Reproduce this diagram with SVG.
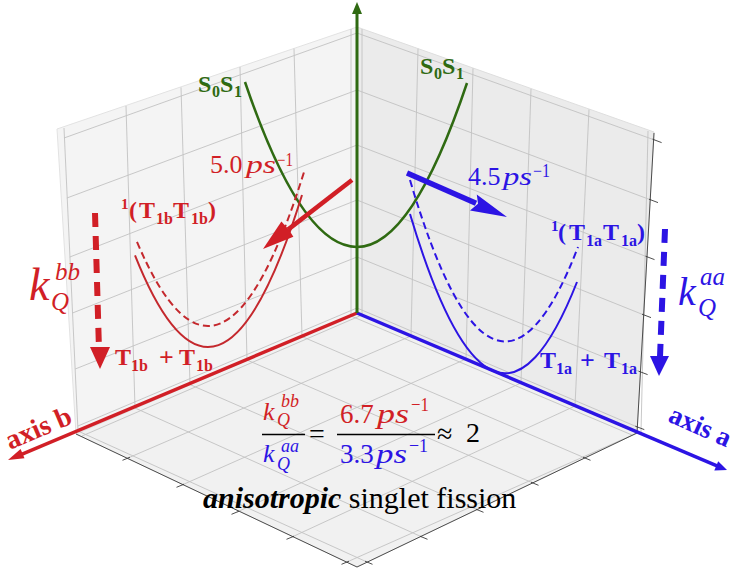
<svg xmlns="http://www.w3.org/2000/svg" width="739" height="570" viewBox="0 0 739 570">
<style>
.grid{stroke:#c2c2c2;stroke-width:0.9;fill:none}
.edge{stroke:#3a3a3a;stroke-width:0.9;fill:none}
.tick{stroke:#3a3a3a;stroke-width:0.9}
text{font-family:"Liberation Serif","Times New Roman",serif}
.b{font-weight:bold}
.i{font-style:italic}
.red{fill:#d11f26}
.blue{fill:#2c14e4}
.green{fill:#2f6a12}
.redc{stroke:#c4282d;stroke-width:2;fill:none}
.bluec{stroke:#2c14e4;stroke-width:2;fill:none}
.dash{stroke-dasharray:7 4}
</style>
<rect width="739" height="570" fill="#ffffff"/>
<g id="panes">
<polygon points="357,27 57,129 76,434 357,313" fill="#f4f4f4" stroke="#e2e2e2" stroke-width="1"/>
<polygon points="357,27 654,132 637,433 357,313" fill="#ebebeb" stroke="#dedede" stroke-width="1"/>
<polygon points="357,313 76,434 357,567 637,433" fill="#f1f1f1" stroke="#e2e2e2" stroke-width="1"/>
</g>
<g id="grid">
<line class="grid" x1="351" y1="29" x2="351" y2="316"/>
<line class="grid" x1="294" y1="48.6" x2="302" y2="336.6"/>
<line class="grid" x1="240" y1="67" x2="247" y2="360"/>
<line class="grid" x1="181" y1="87.4" x2="190" y2="384.6"/>
<line class="grid" x1="126" y1="106" x2="135" y2="408"/>
<line class="grid" x1="64" y1="128" x2="78" y2="431"/>
<line class="grid" x1="77.9" y1="426" x2="357" y2="308"/>
<line class="grid" x1="75.2" y1="369" x2="357" y2="257"/>
<line class="grid" x1="72.5" y1="313" x2="357" y2="200"/>
<line class="grid" x1="69.8" y1="257" x2="357" y2="145"/>
<line class="grid" x1="66.9" y1="198" x2="357" y2="90"/>
<line class="grid" x1="64" y1="138" x2="357" y2="33"/>
<line class="grid" x1="362" y1="29" x2="362" y2="315"/>
<line class="grid" x1="418" y1="48.7" x2="411" y2="336"/>
<line class="grid" x1="473" y1="68.3" x2="466" y2="359.3"/>
<line class="grid" x1="531" y1="88.9" x2="521" y2="382.7"/>
<line class="grid" x1="589" y1="109.5" x2="575" y2="405.7"/>
<line class="grid" x1="648" y1="131" x2="641" y2="432"/>
<line class="grid" x1="357" y1="308" x2="637.3" y2="427"/>
<line class="grid" x1="357" y1="257" x2="640.6" y2="372"/>
<line class="grid" x1="357" y1="200" x2="644" y2="315"/>
<line class="grid" x1="357" y1="145" x2="647.5" y2="257"/>
<line class="grid" x1="357" y1="90" x2="651" y2="200"/>
<line class="grid" x1="357" y1="33" x2="654.6" y2="140"/>
<line class="grid" x1="362" y1="315" x2="82" y2="436"/>
<line class="grid" x1="411" y1="336" x2="128" y2="458"/>
<line class="grid" x1="466" y1="359" x2="182" y2="485"/>
<line class="grid" x1="521" y1="383" x2="237" y2="512"/>
<line class="grid" x1="575" y1="406" x2="292" y2="537"/>
<line class="grid" x1="637" y1="433" x2="347" y2="562"/>
<line class="grid" x1="351" y1="316" x2="632" y2="435"/>
<line class="grid" x1="302" y1="336.6" x2="585" y2="458"/>
<line class="grid" x1="247" y1="360" x2="533" y2="483"/>
<line class="grid" x1="190" y1="384.6" x2="478" y2="510"/>
<line class="grid" x1="135" y1="408" x2="422" y2="537"/>
<line class="grid" x1="78" y1="431" x2="367" y2="562"/>
</g>
<g id="axes-box">
<polyline class="edge" points="76,434 357,567 637,433"/>
<line class="edge" x1="654" y1="133" x2="637" y2="433"/>
<g class="tick">
<line x1="130" y1="457.2" x2="122.5" y2="460.3"/>
<line x1="184" y1="484.2" x2="176.5" y2="487.3"/>
<line x1="239" y1="511.2" x2="231.5" y2="514.3"/>
<line x1="294" y1="536.2" x2="286.5" y2="539.3"/>
<line x1="349" y1="561.2" x2="341.5" y2="564.3"/>
<line x1="365" y1="561.2" x2="372.5" y2="564.3"/>
<line x1="420" y1="536.2" x2="427.5" y2="539.3"/>
<line x1="476" y1="509.2" x2="483.5" y2="512.3"/>
<line x1="531" y1="482.2" x2="538.5" y2="485.3"/>
<line x1="583" y1="457.2" x2="590.5" y2="460.3"/>
<line x1="652.6" y1="139.2" x2="661.6" y2="142.6"/>
<line x1="649" y1="199.2" x2="658" y2="202.6"/>
<line x1="645.5" y1="256.2" x2="654.5" y2="259.6"/>
<line x1="642" y1="314.2" x2="651" y2="317.6"/>
<line x1="638.6" y1="371.2" x2="647.6" y2="374.6"/>
<line x1="635.3" y1="426.2" x2="644.3" y2="429.6"/>
</g>
</g>
<g id="connectors">
<line x1="357" y1="313" x2="18" y2="455.8" stroke="#d11f26" stroke-width="3.5"/>
<polygon points="8,460 20.6,449 24.5,458.3" fill="#d11f26"/>
<line x1="357" y1="313" x2="717" y2="465.8" stroke="#2c14e4" stroke-width="3.5"/>
<polygon points="727,470 714.3,470.4 718.2,461.2" fill="#2c14e4"/>
<line x1="357" y1="313" x2="357" y2="12" stroke="#2f6a12" stroke-width="3"/>
<polygon points="357,2 352,14 362,14" fill="#2f6a12"/>
<path d="M245,82 Q301,247 357,247 Q412,247 467,83" stroke="#2f6a12" stroke-width="2.5" fill="none"/>
<path class="redc" d="M135,255.3 Q218.5,465 302,195"/>
<path class="redc dash" d="M137,241.8 Q220.5,439.8 304,172.1"/>
<path class="bluec" d="M410,214 Q493.5,494 577,282"/>
<path class="bluec dash" d="M410,180 Q494,465 578,247"/>
<line x1="352" y1="180" x2="288" y2="229.6" stroke="#d11f26" stroke-width="4.5"/>
<polygon points="263,249 281.4,221.5 289,229.9 293.4,236.8" fill="#d11f26"/>
<line x1="407" y1="173" x2="476" y2="203.3" stroke="#2c14e4" stroke-width="5.5"/>
<polygon points="507,217 476.8,194.6 478,203.8 470,210.6" fill="#2c14e4"/>
<line x1="95" y1="213" x2="99" y2="350" stroke="#d11f26" stroke-width="6" stroke-dasharray="14 9"/>
<polygon points="90,347 110,347 100,369" fill="#d11f26"/>
<line x1="665" y1="229" x2="660" y2="357" stroke="#2c14e4" stroke-width="6" stroke-dasharray="14 9"/>
<polygon points="650,356 669,356 659,376" fill="#2c14e4"/>
</g>
<g id="labels">
<g id="s0s1-left" class="green b">
<text x="198" y="92" font-size="24">S</text>
<text x="212" y="97" font-size="16">0</text>
<text x="220" y="92" font-size="24">S</text>
<text x="234" y="97" font-size="16">1</text>
</g>
<g id="s0s1-right" class="green b">
<text x="420" y="74" font-size="24">S</text>
<text x="434" y="79" font-size="16">0</text>
<text x="442" y="74" font-size="24">S</text>
<text x="456" y="79" font-size="16">1</text>
</g>
<g id="rate-red" class="red">
<text x="210" y="173" font-size="26">5.0</text>
<text x="246" y="173" font-size="26" class="i" textLength="30" lengthAdjust="spacingAndGlyphs">ps</text>
<text x="277" y="166" font-size="18" textLength="16" lengthAdjust="spacingAndGlyphs">−1</text>
</g>
<g id="rate-blue" class="blue">
<text x="468" y="185" font-size="26">4.5</text>
<text x="503" y="185" font-size="26" class="i" textLength="29" lengthAdjust="spacingAndGlyphs">ps</text>
<text x="533" y="177" font-size="18" textLength="17" lengthAdjust="spacingAndGlyphs">−1</text>
</g>
<g id="ttb" class="red b">
<text x="121" y="209" font-size="15">1</text>
<text x="129" y="218" font-size="24">(</text>
<text x="139" y="218" font-size="24">T</text>
<text x="156" y="224" font-size="16">1b</text>
<text x="173" y="218" font-size="24">T</text>
<text x="191" y="224" font-size="16">1b</text>
<text x="208" y="218" font-size="24">)</text>
</g>
<g id="tta" class="blue b">
<text x="551" y="231" font-size="15">1</text>
<text x="558" y="240" font-size="24">(</text>
<text x="569" y="240" font-size="24">T</text>
<text x="586" y="246" font-size="16">1a</text>
<text x="603" y="240" font-size="24">T</text>
<text x="621" y="246" font-size="16">1a</text>
<text x="637" y="240" font-size="24">)</text>
</g>
<g id="t1b" class="red b">
<text x="115" y="365" font-size="24">T</text>
<text x="131" y="371" font-size="16">1b</text>
<text x="159" y="366" font-size="26">+</text>
<text x="179" y="365" font-size="24">T</text>
<text x="196" y="371" font-size="16">1b</text>
</g>
<g id="t1a" class="blue b">
<text x="540" y="368" font-size="24">T</text>
<text x="556" y="374" font-size="16">1a</text>
<text x="580" y="369" font-size="26">+</text>
<text x="604" y="368" font-size="24">T</text>
<text x="621" y="374" font-size="16">1a</text>
</g>
<g id="kbb" class="red i">
<text x="29" y="300" font-size="46">k</text>
<text x="55" y="280" font-size="25">bb</text>
<text x="51" y="310" font-size="25">Q</text>
</g>
<g id="kaa" class="blue i">
<text x="678" y="305" font-size="40">k</text>
<text x="700" y="285" font-size="25">aa</text>
<text x="698" y="316" font-size="25">Q</text>
</g>
<g id="ratio">
<g class="red">
<text x="263" y="420" font-size="26" class="i">k</text>
<text x="281" y="407" font-size="18" class="i">bb</text>
<text x="277" y="426" font-size="18" class="i">Q</text>
<text x="340" y="423" font-size="27">6.7</text>
<text x="377" y="423" font-size="27" class="i" textLength="32" lengthAdjust="spacingAndGlyphs">ps</text>
<text x="411" y="411" font-size="19" textLength="18" lengthAdjust="spacingAndGlyphs">−1</text>
</g>
<g class="blue">
<text x="263" y="462" font-size="26" class="i">k</text>
<text x="281" y="452" font-size="18" class="i">aa</text>
<text x="277" y="470" font-size="18" class="i">Q</text>
<text x="340" y="463" font-size="27">3.3</text>
<text x="376" y="463" font-size="27" class="i" textLength="31" lengthAdjust="spacingAndGlyphs">ps</text>
<text x="409" y="452" font-size="19" textLength="19" lengthAdjust="spacingAndGlyphs">−1</text>
</g>
<line x1="262" y1="434.5" x2="305" y2="434.5" stroke="#000" stroke-width="1.5"/>
<line x1="337" y1="434.5" x2="435" y2="434.5" stroke="#000" stroke-width="1.5"/>
<text x="309" y="443" font-size="28">=</text>
<text x="437" y="443" font-size="28">≈</text>
<text x="466" y="442" font-size="28">2</text>
</g>
<text id="caption" x="203" y="508" font-size="30"><tspan class="b i">anisotropic</tspan> singlet fission</text>
<text id="axis-b" class="red b" font-size="28" transform="translate(10,450) rotate(-23)">axis b</text>
<text id="axis-a" class="blue b" font-size="27" transform="translate(667,421) rotate(24)">axis a</text>
</g>
</svg>
